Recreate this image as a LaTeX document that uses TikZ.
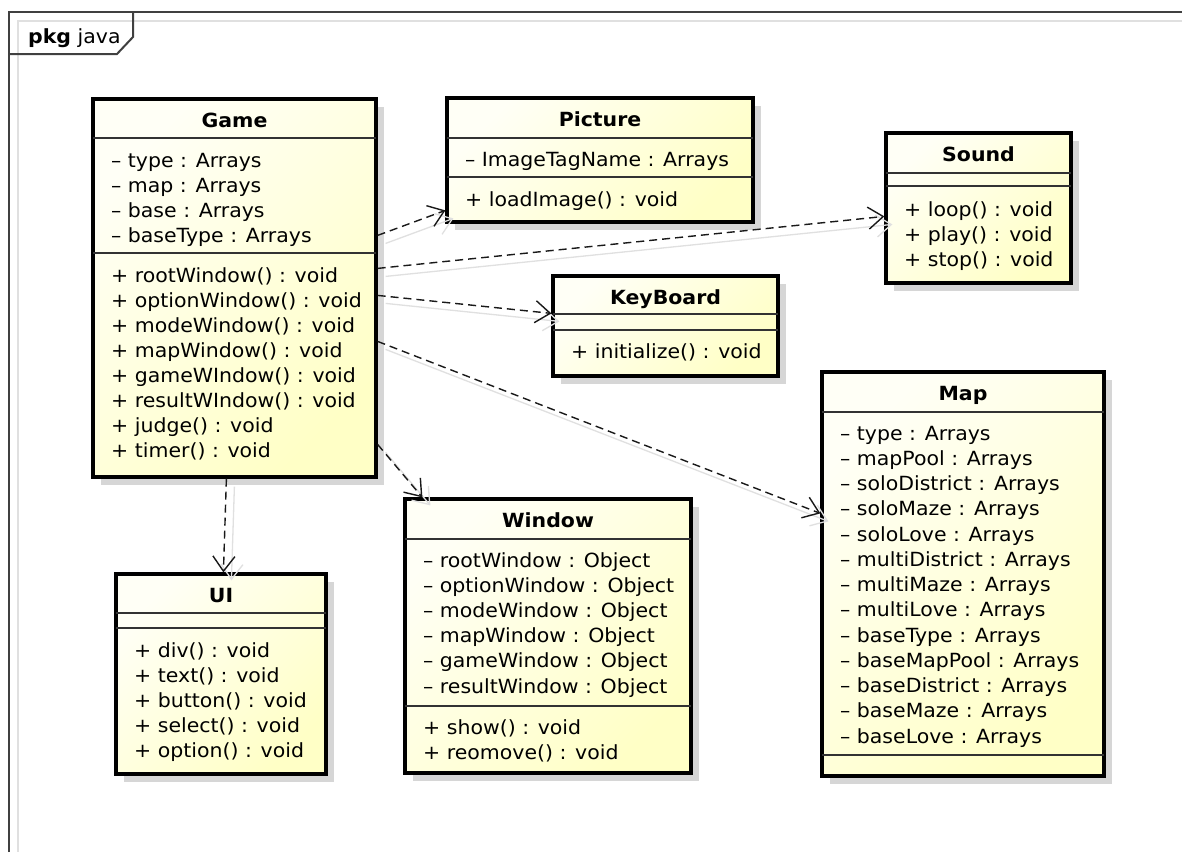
\documentclass[tikz,border=0pt]{standalone}
\usepackage{fontspec}
\setmainfont{DejaVu Sans}[FakeStretch=1.05]
\usetikzlibrary{arrows.meta, calc, fit, shadows}

\definecolor{clslight}{RGB}{255,255,246}
\definecolor{clsdark}{RGB}{255,255,198}
\newcommand{\umlsize}{\fontsize{19.5}{25}\selectfont}

\tikzset{
  cls/.style={draw, line width=3.2pt, inner sep=0pt, top color=clslight, bottom color=clsdark, shading angle=45,
    drop shadow={shadow xshift=8pt, shadow yshift=-8pt, fill=black!16, opacity=1}},
  sep/.style={draw=black!80, line width=1.3pt},
  cname/.style={anchor=base, inner sep=0pt, font=\umlsize\bfseries},
  mem/.style={anchor=base west, inner sep=0pt, font=\umlsize},
  dep/.style={draw=black!90, line width=1.4pt, dash pattern=on 8pt off 5pt, -{Straight Barb[length=15pt, width=22pt]}},
  ghost/.style={draw=black!12, line width=1.3pt, -{Straight Barb[length=15pt, width=22pt]}, transform canvas={shift={(8pt,-8pt)}}},
  frame/.style={draw=black!75, line width=2pt},
}

\begin{document}
\begin{tikzpicture}[x=1pt, y=-1pt]
\useasboundingbox[fill=white] (0,0) rectangle (1182,852);

% package frame
\draw[black!12, line width=1.3pt] (18,852) -- (18,21) -- (1182,21);
\draw[frame] (9,852) -- (9,12) -- (1182,12);
\draw[frame] (9,54) -- (117,54) -- (133,37) -- (133,12);
\node[mem] (pkg) at (28,43) {\textbf{pkg} java};

% Game
\node[cls, fit={(93,99) (376,477)}] (game) {};
\draw[sep] (93,138) -- (376,138) (93,253) -- (376,253);
\node[cname] (game-n) at (234.5,127) {Game};
\foreach \m [count=\i from 0] in {type, map, base, baseType}
  \node[mem] (game-a\i) at (111,{167+25.2*\i}) {– \m{} : Arrays};
\foreach \m [count=\i from 0] in {rootWindow, optionWindow, modeWindow, mapWindow, gameWIndow, resultWIndow, judge, timer}
  \node[mem] (game-o\i) at (111,{282+25.1*\i}) {+ \m() : void};

% Picture
\node[cls, fit={(447,98) (753,222)}] (picture) {};
\draw[sep] (447,138) -- (753,138) (447,177) -- (753,177);
\node[cname] (picture-n) at (600,126) {Picture};
\node[mem] (picture-a0) at (465,166) {– ImageTagName : Arrays};
\node[mem] (picture-o0) at (465,206) {+ loadImage() : void};

% Sound
\node[cls, fit={(886,133) (1071,283)}] (sound) {};
\draw[sep] (886,173) -- (1071,173) (886,186) -- (1071,186);
\node[cname] (sound-n) at (978.5,161) {Sound};
\foreach \m [count=\i from 0] in {loop, play, stop}
  \node[mem] (sound-o\i) at (904,{216+25.2*\i}) {+ \m() : void};

% KeyBoard
\node[cls, fit={(553,276) (778,376)}] (keyboard) {};
\draw[sep] (553,314) -- (778,314) (553,330) -- (778,330);
\node[cname] (keyboard-n) at (665.5,304) {KeyBoard};
\node[mem] (keyboard-o0) at (571,358) {+ initialize() : void};

% Map
\node[cls, fit={(822,372) (1104,776)}] (map) {};
\draw[sep] (822,412) -- (1104,412) (822,755) -- (1104,755);
\node[cname] (map-n) at (963,400) {Map};
\foreach \m [count=\i from 0] in {type, mapPool, soloDistrict, soloMaze, soloLove, multiDistrict, multiMaze, multiLove, baseType, baseMapPool, baseDistrict, baseMaze, baseLove}
  \node[mem] (map-a\i) at (840,{440+25.25*\i}) {– \m{} : Arrays};

% Window
\node[cls, fit={(405,499) (691,773)}] (window) {};
\draw[sep] (405,539) -- (691,539) (405,706) -- (691,706);
\node[cname] (window-n) at (548,527) {Window};
\foreach \m [count=\i from 0] in {rootWindow, optionWindow, modeWindow, mapWindow, gameWindow, resultWindow}
  \node[mem] (window-a\i) at (423,{567+25.2*\i}) {– \m{} : Object};
\foreach \m [count=\i from 0] in {show, reomove}
  \node[mem] (window-o\i) at (423,{734+25.2*\i}) {+ \m() : void};

% UI
\node[cls, fit={(116,574) (326,774)}] (ui) {};
\draw[sep] (116,613) -- (326,613) (116,628) -- (326,628);
\node[cname] (ui-n) at (221,602) {UI};
\foreach \m [count=\i from 0] in {div, text, button, select, option}
  \node[mem] (ui-o\i) at (134,{657+25.2*\i}) {+ \m() : void};

% dependencies (faint copy first, then dashed)
\foreach \s in {ghost, dep} {
  \draw[\s] ($(game.north east)+(0,138)$) -- ($(picture.north west)+(0,114)$);
  \draw[\s] ($(game.north east)+(0,171)$) -- ($(sound.north west)+(0,85)$);
  \draw[\s] ($(game.north east)+(0,198)$) -- ($(keyboard.north west)+(0,39)$);
  \draw[\s] ($(game.north east)+(0,244)$) -- ($(map.north west)+(0,143)$);
  \draw[\s] ($(game.north east)+(0,347)$) -- ($(window.north west)+(19,0)$);
  \draw[\s] ($(game.south west)+(135,0)$) -- ($(ui.north west)+(109,0)$);
}
\end{tikzpicture}
\end{document}
